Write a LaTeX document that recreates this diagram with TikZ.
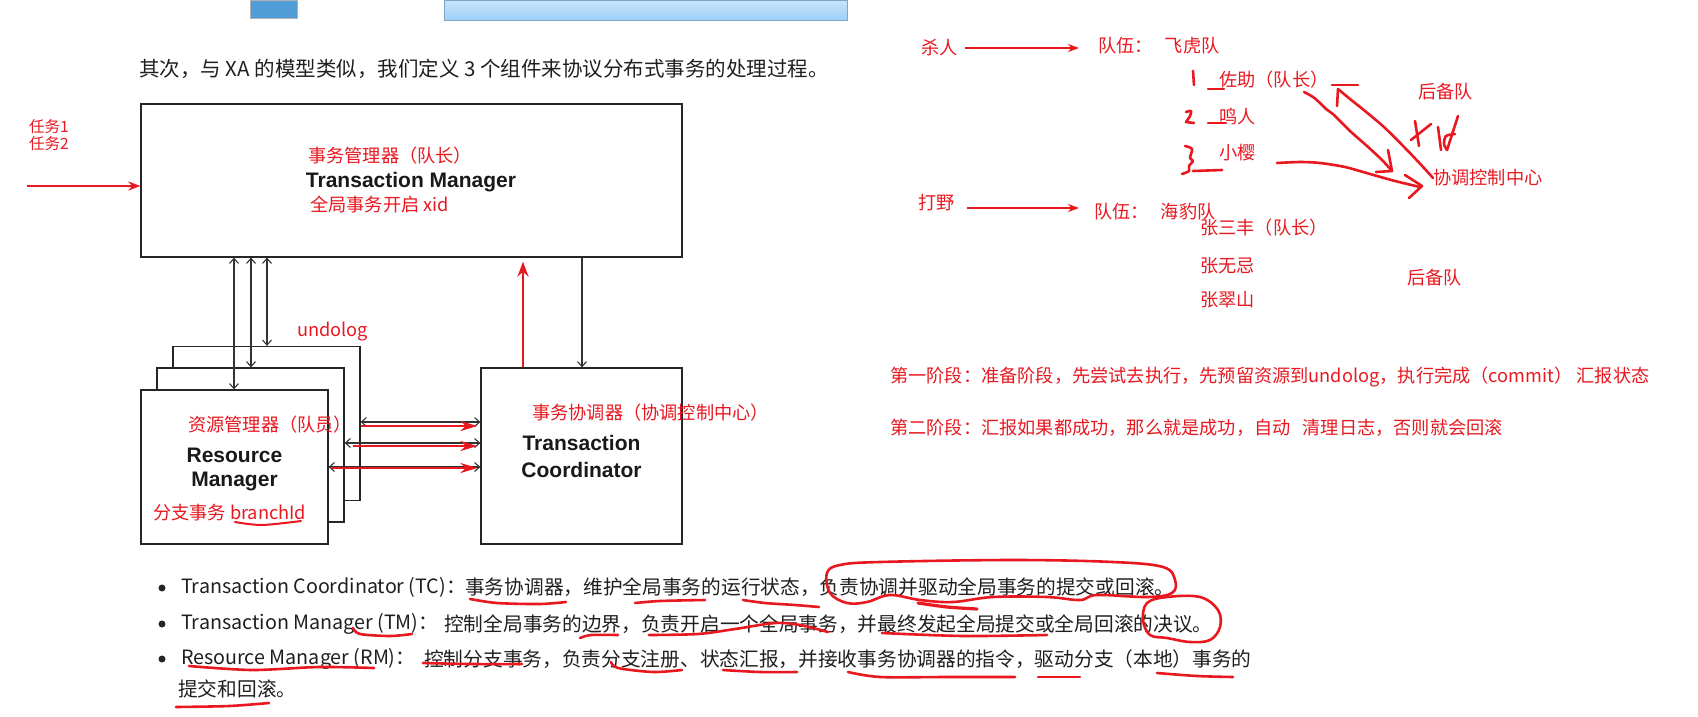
\documentclass[tikz,border=0pt]{standalone}
\usepackage{fontspec}
\setmainfont{Liberation Sans}
\newfontfamily\cjk{Noto Sans CJK SC}
\usetikzlibrary{arrows.meta}
\definecolor{annred}{RGB}{232,24,32}
\definecolor{tabblue}{RGB}{80,156,214}
\definecolor{tabtop}{RGB}{200,228,252}
\definecolor{tabbot}{RGB}{158,208,248}
\begin{document}
\begin{tikzpicture}[
    x=1pt, y=-1pt,
    box/.style={draw=black!85, line width=1.3pt, fill=white, inner sep=0pt},
    title/.style={font=\bfseries\fontsize{21}{24}\selectfont, text=black!90, inner sep=0pt},
    redtext/.style={text=annred, font=\cjk\fontsize{18.2}{21}\selectfont, inner sep=0pt, anchor=west},
    bodytext/.style={font=\cjk\fontsize{19.7}{23}\selectfont, inner sep=0pt, anchor=west, text=black!88},
    link/.style={draw=black!80, line width=1.1pt},
    twoway/.style={link, {Straight Barb[length=5pt,width=9pt]}-{Straight Barb[length=5pt,width=9pt]}},
    oneway/.style={link, -{Straight Barb[length=5pt,width=9pt]}},
    redarrow/.style={draw=annred, line width=2.8pt, -{Stealth[length=15pt,width=11pt]}},
    ink/.style={draw=annred, line width=2.6pt, line cap=round, line join=round},
    dot/.style={circle, fill=black!85, inner sep=0pt, minimum size=7pt}
]
\useasboundingbox (0,0) rectangle (1698,716);

\shade[top color=tabtop, bottom color=tabbot, draw=tabbot!80!black] (444,0) rectangle (847,20);
\fill[tabblue, draw=black!30] (250,0) rectangle (297,18);

\node[bodytext, font=\cjk\fontsize{20.5}{24}\selectfont] (intro) at (139,69) {其次，与 XA 的模型类似，我们定义 3 个组件来协议分布式事务的处理过程。};

\node[box, minimum width=541pt, minimum height=153pt] (tm) at (411.5,180.5) {};
\foreach \i/\x/\y in {3/266.5/423.5, 2/250.5/445, 1/234.5/467}
    \node[box, minimum width=187pt, minimum height=154pt] (rm\i) at (\x,\y) {};
\node[box, minimum width=201pt, minimum height=176pt] (tc) at (581.5,456) {};

\node[redtext] (tmcn) at (308,156) {事务管理器（队长）};
\node[title] (tmen) at (411,182) {Transaction Manager};
\node[redtext] (tmxid) at (310,205) {全局事务开启 xid};

\node[redtext] (rmcn) at (188,425) {资源管理器（队员）};
\node[title] (rmen1) at (234.5,455) {Resource};
\node[title] (rmen2) at (234.5,481) {Manager};
\node[redtext] (rmbranch) at (153,513) {分支事务 branchId};

\node[redtext] (tccn) at (532,413) {事务协调器（协调控制中心）};
\node[title] (tcen1) at (581.5,443) {Transaction};
\node[title] (tcen2) at (581.5,470) {Coordinator};

\node[redtext] (undo) at (297,332) {undolog};

\foreach \i/\x in {1/234,2/251,3/267}
    \draw[twoway] (\x,0 |- tm.south) -- (\x,0 |- rm\i.north);
\draw[redarrow, shorten >=4pt] (523,0 |- tc.north) -- (523,0 |- tm.south);
\draw[oneway] (582,0 |- tm.south) -- (582,0 |- tc.north);

\foreach \i/\y in {3/422,2/443,1/467}
    \draw[twoway] (rm\i.east |- 0,\y) -- (tc.west |- 0,\y);
\foreach \i/\y/\s in {3/426/0,2/446/8,1/468/2}
    \draw[redarrow, line width=2.6pt, -{Stealth[length=17pt,width=10pt]}, shorten <=\s pt, shorten >=3pt]
        (rm\i.east |- 0,\y) -- (tc.west |- 0,\y);
\draw[ink, line width=2pt] plot[smooth] coordinates {(235,522) (262,525) (301,521)};

\node[redtext, font=\cjk\fontsize{15.5}{17}\selectfont] (task1) at (29,127) {任务1};
\node[redtext, font=\cjk\fontsize{15.5}{17}\selectfont] (task2) at (29,144) {任务2};
\coordinate (taskin) at (27,186);
\draw[redarrow, line width=2.4pt, -{Stealth[length=12pt,width=9pt]}] (taskin) -- (taskin -| tm.west);

\node[redtext] (kill) at (921,48) {杀人};
\node[redtext] (team1) at (1098,46) {队伍：\hspace{12pt}飞虎队};
\draw[redarrow, line width=2.2pt, -{Stealth[length=11pt,width=8pt]}, shorten <=7pt, shorten >=19pt]
    (kill.east) -- (kill.east -| team1.west);
\foreach \i/\y/\t in {1/80/佐助（队长）, 2/117/鸣人, 3/153/小樱}
    \node[redtext] (member\i) at (1219,\y) {\t};
\node[redtext] (reserve1) at (1418,92) {后备队};
\node[redtext] (centre) at (1433,178) {协调控制中心};

\node[redtext] (jungle) at (918,203) {打野};
\node[redtext] (team2) at (1094,212) {队伍：\hspace{12pt}海豹队};
\draw[redarrow, line width=2.2pt, -{Stealth[length=11pt,width=8pt]}, shorten <=12pt, shorten >=15pt]
    (jungle.east |- 0,208) -- (team2.west |- 0,208);
\foreach \i/\y/\t in {1/228/张三丰（队长）, 2/266/张无忌, 3/300/张翠山}
    \node[redtext] (zhang\i) at (1200,\y) {\t};
\node[redtext] (reserve2) at (1407,278) {后备队};

\node[redtext] (phase1) at (890,377) {第一阶段：准备阶段，先尝试去执行，先预留资源到undolog，执行完成（commit） 汇报状态};
\node[redtext] (phase2) at (890,428) {第二阶段：汇报如果都成功，那么就是成功，自动\hspace{12pt}清理日志，否则就会回滚};

% handwriting on the right
\draw[ink] (1193,71) -- (1194,85);
\draw[ink] (1208,89) -- (1224,89);
\draw[ink] plot[smooth] coordinates {(1186,112) (1191,111) (1190,116) (1186,122)} -- (1194,123);
\draw[ink] (1208,123) -- (1226,123);
\draw[ink] plot[smooth] coordinates {(1185,146) (1192,149) (1190,158) (1193,161) (1189,166) (1189,171) (1182,174)};
\draw[ink] (1193,171) -- (1222,170);
\draw[ink] plot[smooth] coordinates {(1304,92) (1313,97) (1320,103) (1326,109) (1334,115) (1350,131) (1367,146) (1382,160) (1392,171)};
\draw[ink] (1388,150) -- (1392,171) -- (1376,172);
\draw[ink] plot[smooth] coordinates {(1433,178) (1424,168) (1408,151) (1385,128) (1365,111) (1350,99) (1338,89)};
\draw[ink] (1338,89) -- (1337,106);
\draw[ink] (1332,85) -- (1358,85);
\draw[ink] plot[smooth] coordinates {(1277,163) (1300,162) (1320,163) (1345,167) (1370,174) (1395,181) (1420,187)};
\draw[ink] (1405,175) -- (1422,186) -- (1409,198);
\draw[ink] (1411,140) -- (1431,124);
\draw[ink] (1415,121) -- (1419,146);
\draw[ink] (1438,127) -- (1441,150);
\draw[ink] (1458,116) -- (1447,150);
\draw[ink] plot[smooth] coordinates {(1455,134) (1446,136) (1444,144) (1447,150)};

\foreach \i/\y in {1/588,2/624,3/659}
    \node[dot] (dot\i) at (162,\y) {};
\node[bodytext] (tcname) at (181,587) {Transaction Coordinator (TC)：};
\node[bodytext] (tcdesc) at (465,587) {事务协调器，维护全局事务的运行状态，负责协调并驱动全局事务的提交或回滚。};
\node[bodytext] (tmname) at (181,624) {Transaction Manager (TM)：};
\node[bodytext] (tmdesc) at (444,624) {控制全局事务的边界，负责开启一个全局事务，并最终发起全局提交或全局回滚的决议。};
\node[bodytext] (rmname) at (181,659) {Resource Manager (RM)：};
\node[bodytext] (rmdesc) at (424,659) {控制分支事务，负责分支注册、状态汇报，并接收事务协调器的指令，驱动分支（本地）事务的};
\node[bodytext] (rmdesc2) at (178,689) {提交和回滚。};

% marks under the bullet text
\draw[ink] plot[smooth] coordinates {(470,599) (497,603) (540,604) (566,602)};
\draw[ink] plot[smooth] coordinates {(635,603) (660,601) (705,600)};
\draw[ink] plot[smooth] coordinates {(743,600) (765,603) (795,605) (819,607)};
\draw[ink] plot[smooth cycle, tension=0.6] coordinates {(830,593) (827,573) (840,565) (880,562) (1013,560) (1113,562) (1163,567) (1175,580) (1172,593) (1147,597) (1097,595) (1080,600) (1047,597) (993,597) (953,602) (920,600) (890,595) (867,602) (847,603)};
\draw[ink, line width=3.2pt] plot[smooth] coordinates {(918,603) (947,607) (977,609)};
\draw[ink] plot[smooth] coordinates {(353,628) (360,634) (390,636) (412,634)};
\draw[ink] plot[smooth] coordinates {(580,638) (591,635) (618,635)};
\draw[ink] plot[smooth] coordinates {(649,635) (698,634) (735,629) (775,623) (800,625) (828,632)};
\draw[ink] plot[smooth] coordinates {(882,633) (963,636) (1047,635)};
\draw[ink] plot[smooth cycle, tension=0.6] coordinates {(1167,638) (1150,635) (1143,620) (1147,603) (1167,597) (1200,597) (1218,610) (1220,627) (1210,640) (1190,642)};
\draw[ink] plot[smooth] coordinates {(189,666) (252,670) (319,667) (374,668)};
\draw[ink] plot[smooth] coordinates {(423,663) (470,664) (522,664)};
\draw[ink] plot[smooth] coordinates {(611,662) (618,668) (653,672) (682,670)};
\draw[ink] plot[smooth] coordinates {(723,670) (760,672) (797,672)};
\draw[ink] plot[smooth] coordinates {(848,672) (880,677) (947,677) (1015,677)};
\draw[ink] (1038,677) -- (1080,677);
\draw[ink] plot[smooth] coordinates {(1157,673) (1197,676) (1233,677)};
\draw[ink] plot[smooth] coordinates {(176,707) (229,706) (269,703)};
\end{tikzpicture}
\end{document}
